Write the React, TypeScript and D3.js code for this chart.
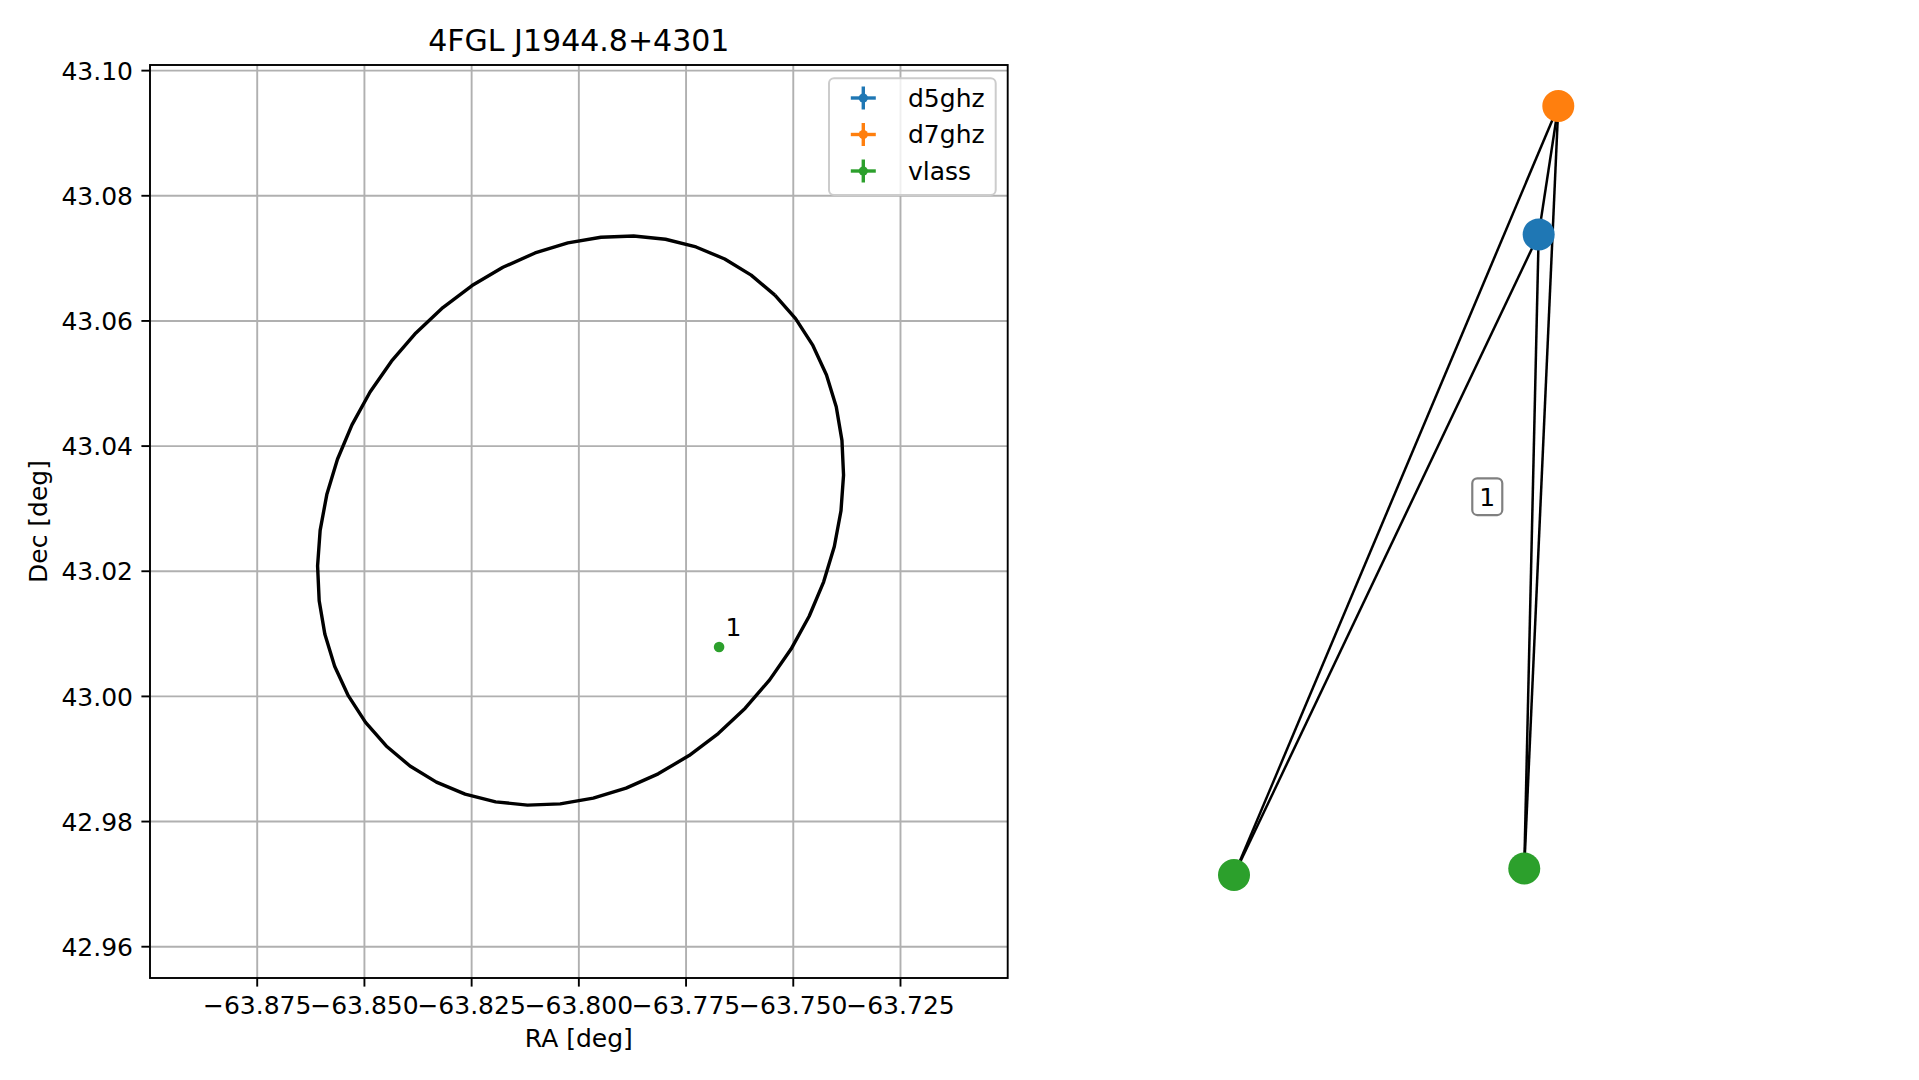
import React from "react";
import * as d3 from "d3";

// ---------- Data ----------
const TITLE = "4FGL J1944.8+4301";
const X_LABEL = "RA [deg]";
const Y_LABEL = "Dec [deg]";
const X_DOMAIN = [-63.9, -63.7];
const Y_DOMAIN = [42.955, 43.1009];
const X_TICKS = [-63.875, -63.85, -63.825, -63.8, -63.775, -63.75, -63.725];
const Y_TICKS = [42.96, 42.98, 43.0, 43.02, 43.04, 43.06, 43.08, 43.1];

const SERIES_NAMES = ["d5ghz", "d7ghz", "vlass"];
const SERIES_COLORS = ["#1f77b4", "#ff7f0e", "#2ca02c"];

// vlass source(s) in the RA/Dec panel
const VLASS_RA = [-63.7673];
const VLASS_DEC = [43.0079];
const VLASS_LABELS = ["1"];

// Fermi 95% ellipse: center (RA, Dec), semi-axes (deg on sky), rotation (deg)
const ELLIPSE_CENTER = [-63.7996, 43.0281];
const ELLIPSE_AXES = [0.04894, 0.04104];
const ELLIPSE_ANGLE = 47.4;
const ELLIPSE_SEGMENTS = 50;

// Graph panel (layout coordinates)
const NODE_IDS = ["d5ghz", "d7ghz", "vlass_a", "vlass_b"];
const NODE_X = [0.879, 1.0, -1.0, 0.79];
const NODE_Y = [0.666, 1.0, -1.0, -0.983];
const NODE_GROUP = [0, 1, 2, 2];
const EDGES = [
  ["d7ghz", "vlass_a"],
  ["d7ghz", "d5ghz"],
  ["d7ghz", "vlass_b"],
  ["d5ghz", "vlass_a"],
  ["d5ghz", "vlass_b"],
];
const GRAPH_LABEL = { text: "1", x: 0.562, y: -0.016 };

// ---------- Layout ----------
const W = 1919;
const H = 1080;
const AX = { left: 150, right: 1007.7, top: 65, bottom: 978 };
const FONT = "DejaVu Sans, sans-serif";
const FS = 25;

export default function App() {
  const x = d3.scaleLinear().domain(X_DOMAIN).range([AX.left, AX.right]);
  const y = d3.scaleLinear().domain(Y_DOMAIN).range([AX.bottom, AX.top]);
  const fx = d3.format(".3f");
  const fy = d3.format(".2f");

  // ellipse outline
  const cosDec = Math.cos((ELLIPSE_CENTER[1] * Math.PI) / 180);
  const phi = (ELLIPSE_ANGLE * Math.PI) / 180;
  const pts: [number, number][] = d3.range(ELLIPSE_SEGMENTS + 1).map((i) => {
    const t = (2 * Math.PI * i) / ELLIPSE_SEGMENTS;
    const [a, b] = ELLIPSE_AXES;
    const dx = a * Math.cos(t) * Math.cos(phi) - b * Math.sin(t) * Math.sin(phi);
    const dy = a * Math.cos(t) * Math.sin(phi) + b * Math.sin(t) * Math.cos(phi);
    return [ELLIPSE_CENTER[0] + dx / cosDec, ELLIPSE_CENTER[1] + dy];
  });
  const line = d3
    .line<[number, number]>()
    .x((d) => x(d[0]))
    .y((d) => y(d[1]));

  // graph scales
  const gx = d3.scaleLinear().domain([-1, 1]).range([1234, 1558.3]);
  const gy = d3.scaleLinear().domain([-1, 1]).range([875, 106]);
  const nodeIndex = (id: string) => NODE_IDS.indexOf(id);

  const tickLen = 8.6;
  const legend = { x: 829, y: 78.3, w: 166.7, h: 116.7 };
  const legendRows = [98, 134.5, 171];

  return (
    <svg
      width={W}
      height={H}
      style={{ position: "absolute", left: 0, top: 0, background: "#fff" }}
      fontFamily={FONT}
    >
      <rect x={0} y={0} width={W} height={H} fill="#fff" />

      {/* grid */}
      <g stroke="#b0b0b0" strokeWidth={1.9}>
        {X_TICKS.map((t) => (
          <line key={"gx" + t} x1={x(t)} x2={x(t)} y1={AX.top} y2={AX.bottom} />
        ))}
        {Y_TICKS.map((t) => (
          <line key={"gy" + t} y1={y(t)} y2={y(t)} x1={AX.left} x2={AX.right} />
        ))}
      </g>

      {/* ellipse */}
      <path d={line(pts) || ""} fill="none" stroke="#000" strokeWidth={3.4} strokeLinejoin="round" />

      {/* vlass point */}
      {VLASS_RA.map((ra, i) => (
        <g key={"v" + i}>
          <circle cx={x(ra)} cy={y(VLASS_DEC[i])} r={5.3} fill={SERIES_COLORS[2]} />
          <text x={x(ra) + 6.3} y={y(VLASS_DEC[i]) - 10.6} fontSize={FS} fill="#000">
            {VLASS_LABELS[i]}
          </text>
        </g>
      ))}

      {/* legend */}
      <rect
        x={legend.x}
        y={legend.y}
        width={legend.w}
        height={legend.h}
        rx={5}
        fill="#fff"
        fillOpacity={0.8}
        stroke="#cccccc"
        strokeWidth={2}
      />
      {SERIES_NAMES.map((name, i) => {
        const cy = legendRows[i];
        const cx = 863.3;
        return (
          <g key={name}>
            <line x1={cx - 12.5} x2={cx + 12.5} y1={cy} y2={cy} stroke={SERIES_COLORS[i]} strokeWidth={3.4} />
            <line x1={cx} x2={cx} y1={cy - 11.5} y2={cy + 11.5} stroke={SERIES_COLORS[i]} strokeWidth={3.4} />
            <circle cx={cx} cy={cy} r={4.6} fill={SERIES_COLORS[i]} />
            <text x={908} y={cy + 8.9} fontSize={FS} fill="#000">
              {name}
            </text>
          </g>
        );
      })}

      {/* spines */}
      <rect
        x={AX.left}
        y={AX.top}
        width={AX.right - AX.left}
        height={AX.bottom - AX.top}
        fill="none"
        stroke="#000"
        strokeWidth={1.9}
      />

      {/* x ticks */}
      {X_TICKS.map((t) => (
        <g key={"xt" + t}>
          <line x1={x(t)} x2={x(t)} y1={AX.bottom} y2={AX.bottom + tickLen} stroke="#000" strokeWidth={1.9} />
          <text x={x(t)} y={1014} fontSize={FS} textAnchor="middle" fill="#000">
            {fx(t)}
          </text>
        </g>
      ))}
      {/* y ticks */}
      {Y_TICKS.map((t) => (
        <g key={"yt" + t}>
          <line x1={AX.left - tickLen} x2={AX.left} y1={y(t)} y2={y(t)} stroke="#000" strokeWidth={1.9} />
          <text x={AX.left - tickLen - 8.4} y={y(t) + 9.1} fontSize={FS} textAnchor="end" fill="#000">
            {fy(t)}
          </text>
        </g>
      ))}

      {/* labels */}
      <text x={(AX.left + AX.right) / 2} y={1047} fontSize={FS} textAnchor="middle" fill="#000">
        {X_LABEL}
      </text>
      <text
        transform={`translate(47, ${(AX.top + AX.bottom) / 2}) rotate(-90)`}
        fontSize={FS}
        textAnchor="middle"
        fill="#000"
      >
        {Y_LABEL}
      </text>
      <text x={(AX.left + AX.right) / 2} y={50.6} fontSize={30} textAnchor="middle" fill="#000">
        {TITLE}
      </text>

      {/* graph panel */}
      <g stroke="#000" strokeWidth={2.5}>
        {EDGES.map(([a, b], i) => {
          const ia = nodeIndex(a);
          const ib = nodeIndex(b);
          return (
            <line
              key={"e" + i}
              x1={gx(NODE_X[ia])}
              y1={gy(NODE_Y[ia])}
              x2={gx(NODE_X[ib])}
              y2={gy(NODE_Y[ib])}
            />
          );
        })}
      </g>
      {NODE_IDS.map((id, i) => (
        <circle key={id} cx={gx(NODE_X[i])} cy={gy(NODE_Y[i])} r={16} fill={SERIES_COLORS[NODE_GROUP[i]]} />
      ))}
      <g>
        <rect
          x={gx(GRAPH_LABEL.x) - 15}
          y={gy(GRAPH_LABEL.y) - 18.3}
          width={30}
          height={36.7}
          rx={5}
          fill="#fff"
          stroke="#808080"
          strokeWidth={2.2}
        />
        <text
          x={gx(GRAPH_LABEL.x)}
          y={gy(GRAPH_LABEL.y) + 8.9}
          fontSize={FS}
          textAnchor="middle"
          fill="#000"
        >
          {GRAPH_LABEL.text}
        </text>
      </g>
    </svg>
  );
}
